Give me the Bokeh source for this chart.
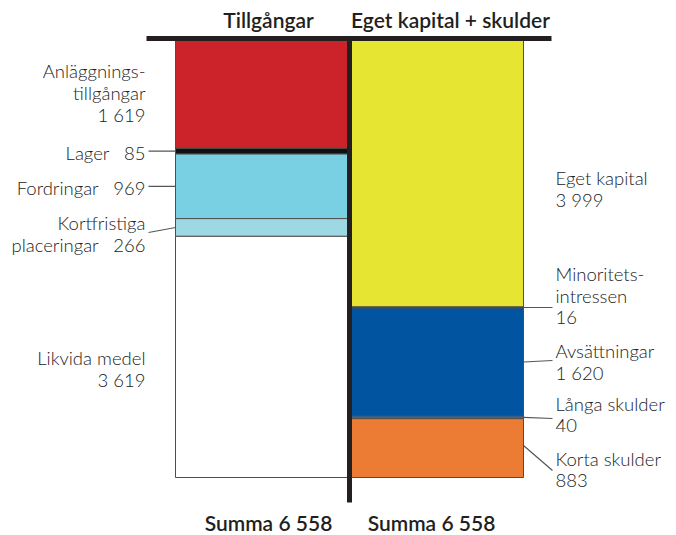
from bokeh.plotting import figure
from bokeh.models import Range1d
from bokeh.core.properties import value
from bokeh.embed import file_html
from bokeh.resources import INLINE

# ---------------- data ----------------
left_names = ["Anläggningstillgångar", "Lager", "Fordringar", "Kortfristiga placeringar", "Likvida medel"]
left_values = [1619, 85, 969, 266, 3619]
left_colors = ["#CC2229", "#111111", "#79D0E3", "#9ED9E3", "#FFFFFF"]

right_names = ["Eget kapital", "Minoritetsintressen", "Avsättningar", "Långa skulder", "Korta skulder"]
right_values = [3999, 16, 1620, 40, 883]
right_colors = ["#E6E632", "#2A3F5A", "#0054A0", "#2B6CB3", "#EC7C33"]

headers = ["Tillgångar", "Eget kapital + skulder"]
total_label = "Summa"

NB = "\u00a0"

def fmt(v):
    return f"{v:,}".replace(",", NB)

# label line texts
left_lines = [
    ["Anläggnings-", "tillgångar", fmt(left_values[0])],
    [f"Lager{NB*3}{fmt(left_values[1])}"],
    [f"Fordringar{NB*3}{fmt(left_values[2])}"],
    ["Kortfristiga", f"placeringar{NB*3}{fmt(left_values[3])}"],
    ["Likvida medel", fmt(left_values[4])],
]
right_lines = [
    ["Eget kapital", fmt(right_values[0])],
    ["Minoritets-", "intressen", fmt(right_values[1])],
    ["Avsättningar", fmt(right_values[2])],
    ["Långa skulder", fmt(right_values[3])],
    ["Korta skulder", fmt(right_values[4])],
]

# ---------------- layout (picture px) ----------------
W, H = 676, 535
OFF = 0
TOTAL = sum(left_values)
TOP_PX, BOT_PX = 40, 477
K = TOTAL / (BOT_PX - TOP_PX)

def d(page_y):
    return (page_y - TOP_PX) * K

def cx(page_x):
    return page_x - OFF

p = figure(width=W, height=H, output_backend="svg", toolbar_location=None,
           x_range=Range1d(0, W), y_range=Range1d(d(OFF + H), d(OFF)),
           min_border=0, outline_line_color=None)
p.axis.visible = False
p.xgrid.visible = False
p.ygrid.visible = False
p.background_fill_color = "white"

def stack(vals):
    tops, bots = [], []
    acc = 0
    for v in vals:
        tops.append(acc)
        acc += v
        bots.append(acc)
    return tops, bots

lt, lb = stack(left_values)
rt, rb = stack(right_values)

L0, L1 = cx(175), cx(347)
R0, R1 = cx(351), cx(523)

p.quad(left=[L0] * 5, right=[L1] * 5, top=lt, bottom=lb, fill_color=left_colors,
       line_color="#4d4d4d", line_width=1)
p.quad(left=[R0] * 5, right=[R1] * 5, top=rt, bottom=rb, fill_color=right_colors,
       line_color="#4d4d4d", line_width=1)

# axis-like black lines
p.line([cx(146), cx(551)], [d(38), d(38)], line_color="#231F20", line_width=5)
p.line([cx(349), cx(349)], [d(36), d(502)], line_color="#231F20", line_width=5)

FONT = value("Lato Light")
TXT = "#222222"
FS = "18.5px"
LH = 22

# left labels
left_first_y = [70, 152, 187, 222, 357]
for lines, y0 in zip(left_lines, left_first_y):
    ys = [d(y0 + i * LH) for i in range(len(lines))]
    p.text(x=[cx(145)] * len(lines), y=ys, text=lines, text_font=FONT,
           text_font_size=FS, text_color=TXT, text_align="right", text_baseline="middle")

mids_l = [(a + b) / 2 for a, b in zip(lt, lb)]
p.segment(x0=[cx(148), cx(148), cx(148)], y0=[mids_l[1], mids_l[2], d(232)],
          x1=[L0, L0, L0], y1=[mids_l[1], mids_l[2], mids_l[3]],
          line_color="#555555", line_width=1.2)

# right labels
right_first_y = [177, 273, 350, 403, 458]
for lines, y0 in zip(right_lines, right_first_y):
    ys = [d(y0 + i * LH) for i in range(len(lines))]
    p.text(x=[cx(555)] * len(lines), y=ys, text=lines, text_font=FONT,
           text_font_size=FS, text_color=TXT, text_align="left", text_baseline="middle")

mids_r = [(a + b) / 2 for a, b in zip(rt, rb)]
p.segment(x0=[R1] * 4, y0=[mids_r[1], mids_r[2], mids_r[3], d(445)],
          x1=[cx(552)] * 4, y1=[d(307), d(360), d(418), d(470)],
          line_color="#555555", line_width=1.2)

# headers
HFONT = value("Lato Semibold")
p.text(x=[cx(268), cx(450)], y=[d(19), d(19)], text=headers, text_font=HFONT,
       text_font_size="21px", text_color="#231F20",
       text_align="center", text_baseline="middle")
p.text(x=[cx(268), cx(431)], y=[d(522), d(522)],
       text=[f"{total_label}{NB}{fmt(sum(left_values))}", f"{total_label}{NB}{fmt(sum(right_values))}"],
       text_font=HFONT, text_font_size="21px", text_color="#231F20",
       text_align="center", text_baseline="middle")

open("out.html", "w").write(file_html(p, INLINE))
